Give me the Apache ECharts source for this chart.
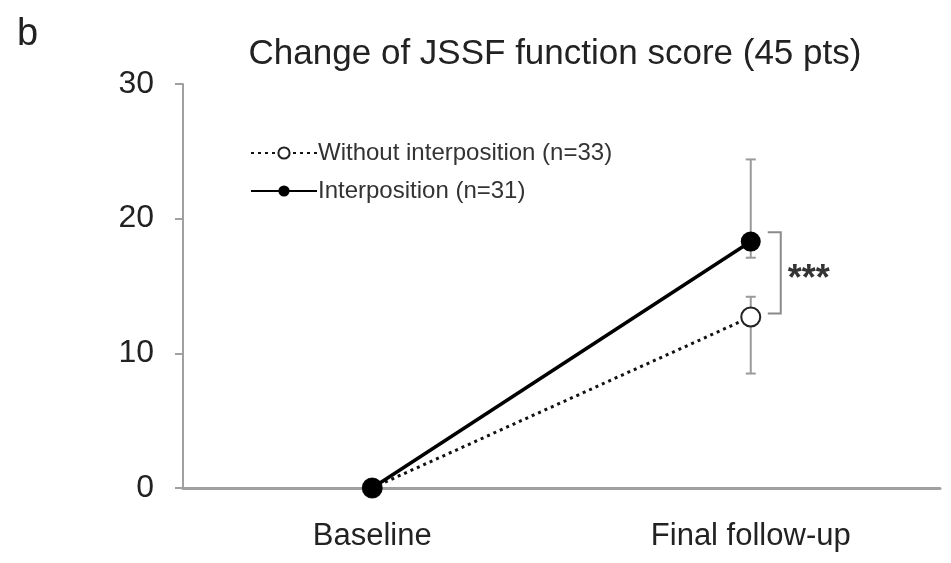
<!DOCTYPE html>
<html>
<head>
<meta charset="UTF-8">
<title></title>
<script src="https://cdn.jsdelivr.net/npm/echarts@6/dist/echarts.min.js"></script>
<style>
* { padding: 0; margin: 0; }
#main { width: 951px; height: 563px; background: #fff; }
</style>
</head>
<body>
<div id="main"></div>
<script>
var categories = ['Baseline', 'Final follow-up'];
var withoutValues = [0, 12.7];
var interValues = [0, 18.3];
// error bars at final follow-up: [category, low, high]
var interError = [[1, 17.1, 24.4]];
var withoutError = [[1, 8.5, 14.2]];
// significance bracket between the two means
var bracket = [[1, 12.95, 19.0, '***']];

var chart = echarts.init(document.getElementById('main'));
var font = 'Liberation Sans, Arial, sans-serif';

function errorItem(params, api) {
  var c = api.value(0);
  var lo = api.coord([c, api.value(1)]);
  var hi = api.coord([c, api.value(2)]);
  var st = { stroke: '#9a9a9a', lineWidth: 2 };
  var w = 5;
  return {
    type: 'group',
    children: [
      { type: 'line', shape: { x1: lo[0], y1: lo[1], x2: hi[0], y2: hi[1] }, style: st },
      { type: 'line', shape: { x1: lo[0] - w, y1: lo[1], x2: lo[0] + w, y2: lo[1] }, style: st },
      { type: 'line', shape: { x1: hi[0] - w, y1: hi[1], x2: hi[0] + w, y2: hi[1] }, style: st }
    ]
  };
}

chart.setOption({
  animation: false,
  title: [
    { text: 'b', left: 12, top: 11, textStyle: { fontFamily: font, fontWeight: 'normal', fontSize: 38, color: '#222' } },
    { text: 'Change of JSSF function score (45 pts)', left: 550, textAlign: 'center', top: 32,
      textStyle: { fontFamily: font, fontWeight: 'normal', fontSize: 35, color: '#222' } }
  ],
  legend: {
    orient: 'vertical', left: 245, top: 136, itemWidth: 66, itemHeight: 14, itemGap: 14,
    data: ['Without interposition (n=33)', 'Interposition (n=31)'],
    textStyle: { fontFamily: font, fontSize: 24, color: '#333', padding: [0, 0, 0, -4] }
  },
  grid: { left: 183, right: 11, top: 84, bottom: 75 },
  xAxis: {
    type: 'category', data: categories,
    axisLine: { lineStyle: { color: '#a0a0a0', width: 3 } },
    axisTick: { length: 10, lineStyle: { color: '#a0a0a0', width: 2 } },
    axisLabel: { fontFamily: font, fontSize: 31, color: '#222', margin: 33 }
  },
  yAxis: {
    type: 'value', min: 0, max: 30, interval: 10,
    splitLine: { show: false },
    axisLine: { show: true, lineStyle: { color: '#a0a0a0', width: 2 } },
    axisTick: { show: true, length: 8, lineStyle: { color: '#a0a0a0', width: 2 } },
    axisLabel: { fontFamily: font, fontSize: 32, color: '#222', margin: 29 }
  },
  series: [
    { type: 'custom', data: interError, renderItem: errorItem, z: 1 },
    { type: 'custom', data: withoutError, renderItem: errorItem, z: 1 },
    {
      type: 'custom', data: bracket, z: 1,
      renderItem: function (params, api) {
        var lo = api.coord([api.value(0), api.value(1)]);
        var hi = api.coord([api.value(0), api.value(2)]);
        var x1 = lo[0] + 17, x2 = lo[0] + 30;
        return {
          type: 'group',
          children: [
            { type: 'polyline', shape: { points: [[x1, hi[1]], [x2, hi[1]], [x2, lo[1]], [x1, lo[1]]] },
              style: { stroke: '#8a8a8a', lineWidth: 2, fill: null } },
            { type: 'text', x: x2 + 7, y: (lo[1] + hi[1]) / 2 + 7,
              style: { text: api.value(3), fontFamily: font, fontSize: 36, fontWeight: 'bold', fill: '#333', verticalAlign: 'middle' } }
          ]
        };
      }
    },
    {
      name: 'Without interposition (n=33)', type: 'line', data: withoutValues, z: 3,
      symbol: 'circle', symbolSize: 19,
      lineStyle: { color: '#111', width: 3, type: [3, 4] },
      itemStyle: { color: '#fff', borderColor: '#222', borderWidth: 2 }
    },
    {
      name: 'Interposition (n=31)', type: 'line', data: interValues, z: 4,
      symbol: 'circle', symbolSize: 20,
      lineStyle: { color: '#000', width: 3.5 },
      itemStyle: { color: '#000' }
    }
  ]
});
</script>
</body>
</html>
